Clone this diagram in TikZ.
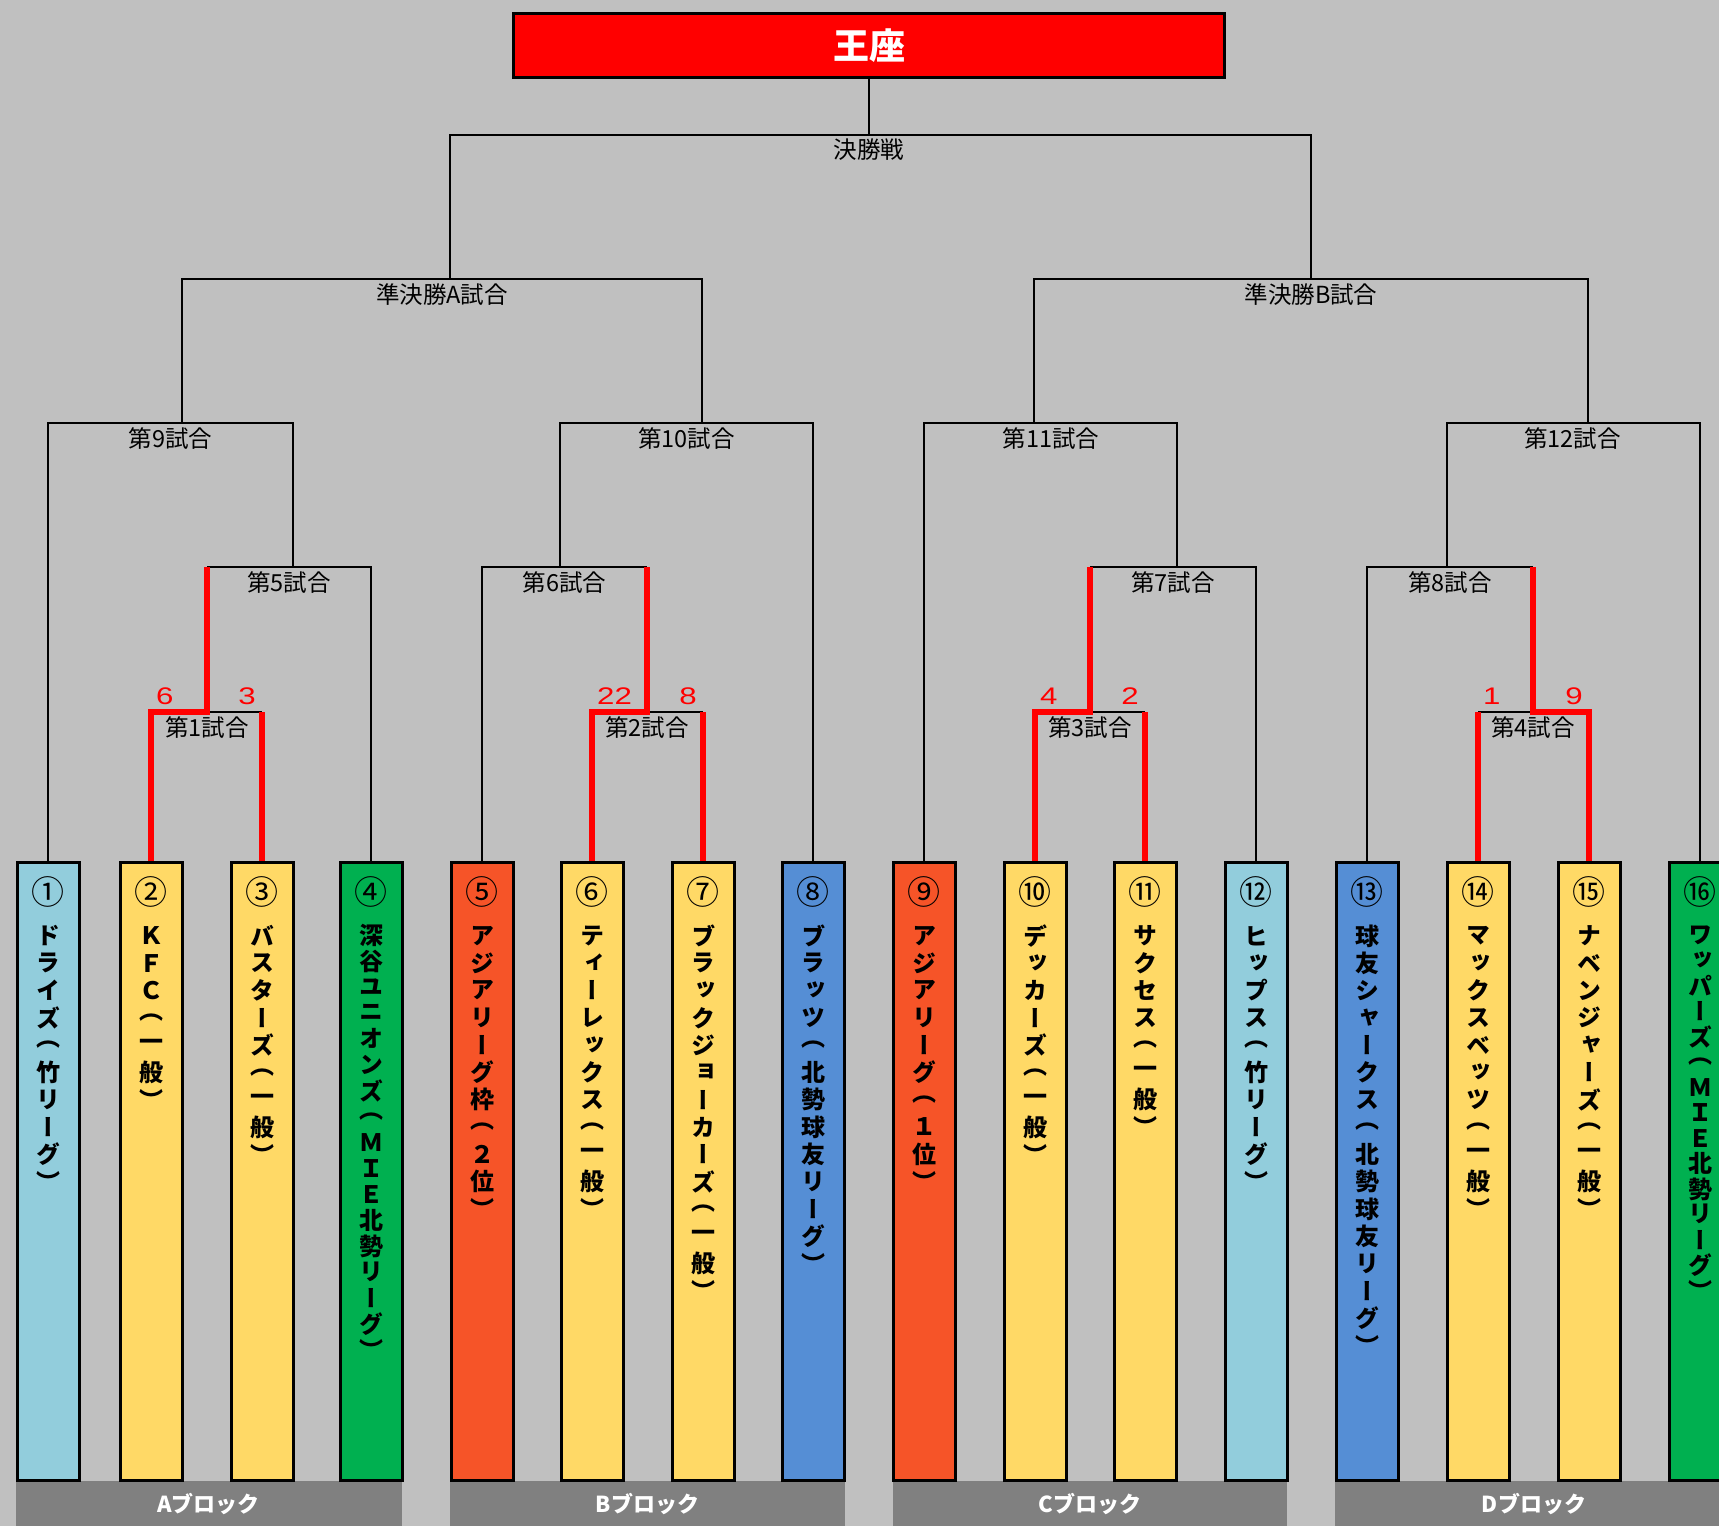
\documentclass[tikz,border=0pt]{standalone}
\usepackage{fontspec}
\setmainfont{Noto Sans CJK JP}
\newfontfamily\tatefont[RawFeature=+vert]{Noto Sans CJK JP}
\newfontfamily\scorefont[FakeStretch=1.3]{Liberation Sans}
\usetikzlibrary{positioning,backgrounds}
\definecolor{bgc}{HTML}{C0C0C0}
\definecolor{barc}{HTML}{808080}
\definecolor{tsky}{HTML}{92CDDC}
\definecolor{tyel}{HTML}{FFD966}
\definecolor{tgrn}{HTML}{00B050}
\definecolor{tred}{HTML}{F65428}
\definecolor{tblu}{HTML}{558ED5}
\newcommand\tatestack[2][27.3]{\def\tatepitch{#1}\vbox{\offinterlineskip\expandafter\tatenext#2\relax}}
\newcommand\tatenext[1]{\ifx#1\relax\else\hbox to 26pt{\hss\vbox to \tatepitch pt{\vss\hbox{#1}\vss}\hss}\expandafter\tatenext\fi}
\tikzset{
  team/.style={draw, line width=3pt, anchor=north, minimum width=62pt, minimum height=618pt, inner sep=0pt},
  num/.style={inner sep=0pt, font=\fontsize{33}{33}\selectfont},
  tname/.style={anchor=north, inner sep=0pt, font=\tatefont\bfseries\fontsize{24}{26}\selectfont},
  link/.style={line width=2.6pt},
  win/.style={red, line width=6.5pt},
  score/.style={red, inner sep=0pt, font=\scorefont\fontsize{24}{24}\selectfont},
  match/.style={anchor=north, inner sep=0pt, font=\fontsize{23.5}{23.5}\selectfont},
  blk/.style={fill=barc, text=white, anchor=north, minimum height=45pt, inner sep=0pt, font=\bfseries\fontsize{22}{22}\selectfont},
  crown/.style={draw, fill=red, line width=3pt, text=white, minimum width=711pt, minimum height=64pt, font=\bfseries\fontsize{36}{36}\selectfont}
}
\begin{document}
\begin{tikzpicture}[x=1pt, y=-1pt]
\useasboundingbox (0,0) rectangle (1719,1526);
\clip (0,0) rectangle (1719,1526);

\node[crown] (top) at (869,45.5) {王座};

\node[blk, minimum width=386pt] (bA) at (208.5,1481) {Aブロック};
\node[blk, minimum width=395pt] (bB) at (647.5,1481) {Bブロック};
\node[blk, minimum width=394pt] (bC) at (1090,1481) {Cブロック};
\node[blk, minimum width=398pt] (bD) at (1534,1481) {Dブロック};

\foreach \i/\x/\col/\cn/\p/\tn in {
  1/48/tsky/①/27.3/ドライズ（竹リーグ）,
  2/151/tyel/②/27.3/ＫＦＣ（一般）,
  3/262/tyel/③/27.3/バスターズ（一般）,
  4/371/tgrn/④/25.9/深谷ユニオンズ（ＭＩＥ北勢リーグ）,
  5/482/tred/⑤/27.3/アジアリーグ枠（２位）,
  6/592/tyel/⑥/27.3/ティーレックス（一般）,
  7/703/tyel/⑦/27.3/ブラックジョーカーズ（一般）,
  8/813/tblu/⑧/27.3/ブラッツ（北勢球友リーグ）,
  9/924/tred/⑨/27.3/アジアリーグ（１位）,
  10/1035/tyel/⑩/27.3/デッカーズ（一般）,
  11/1145/tyel/⑪/27.3/サクセス（一般）,
  12/1256/tsky/⑫/27.3/ヒップス（竹リーグ）,
  13/1367/tblu/⑬/27.3/球友シャークス（北勢球友リーグ）,
  14/1478/tyel/⑭/27.3/マックスベッツ（一般）,
  15/1589/tyel/⑮/27.3/ナベンジャーズ（一般）,
  16/1700/tgrn/⑯/25.4/ワッパーズ（ＭＩＥ北勢リーグ）}{
  \node[team, fill=\col] (t\i) at (\x,861) {};
  \node[num] (n\i) at ([yshift=-31]t\i.north) {\cn};
  \node[tname] (w\i) at ([yshift=-61]t\i.north) {\tatestack[\p]{\tn}};
}

\coordinate (fin) at (869,135);
\coordinate (sA) at (450,279);
\coordinate (sB) at (1311,279);
\coordinate (m9) at (182,423);
\coordinate (m10) at (702,423);
\coordinate (m11) at (1034,423);
\coordinate (m12) at (1588,423);
\coordinate (m5) at (293,567);
\coordinate (m6) at (560,567);
\coordinate (m7) at (1177,567);
\coordinate (m8) at (1447,567);
\coordinate (m1) at (207,712);
\coordinate (m2) at (647,712);
\coordinate (m3) at (1090,712);
\coordinate (m4) at (1533,712);
\coordinate (k2) at (t2.north |- m1);
\coordinate (k3) at (t3.north |- m1);
\coordinate (k6) at (t6.north |- m2);
\coordinate (k7) at (t7.north |- m2);
\coordinate (k10) at (t10.north |- m3);
\coordinate (k11) at (t11.north |- m3);
\coordinate (k14) at (t14.north |- m4);
\coordinate (k15) at (t15.north |- m4);

\begin{scope}[on background layer]
\fill[bgc] (0,0) rectangle (1719,1526);
\draw[link] (top) -- (fin);
\draw[link] (sA) |- (fin) -| (sB);
\draw[link] (m9) |- (sA) -| (m10);
\draw[link] (m11) |- (sB) -| (m12);
\draw[link] (t1.north) |- (m9) -| (m5);
\draw[link] (m6) |- (m10) -| (t8.north);
\draw[link] (t9.north) |- (m11) -| (m7);
\draw[link] (m8) |- (m12) -| (t16.north);
\draw[link] (m1 |- m5) -| (t4.north);
\draw[link] (t5.north) |- (m2 |- m6);
\draw[link] (m3 |- m7) -| (t12.north);
\draw[link] (t13.north) |- (m4 |- m8);
\draw[link] (m1) -- (k3);
\draw[link] (m2) -- (k7);
\draw[link] (m3) -- (k11);
\draw[link] (k14) -- (m4);
\draw[win] (t2.north) -- (k2) -- (m1) -- (m1 |- m5);
\draw[win] (t3.north) -- (k3);
\draw[win] (t6.north) -- (k6) -- (m2) -- (m2 |- m6);
\draw[win] (t7.north) -- (k7);
\draw[win] (t10.north) -- (k10) -- (m3) -- (m3 |- m7);
\draw[win] (t11.north) -- (k11);
\draw[win] (t14.north) -- (k14);
\draw[win] (t15.north) -- (k15) -- (m4) -- (m4 |- m8);
\end{scope}

\node[score, above right=7pt and 5pt of k2] (s2) {6};
\node[score, above left=7pt and 6pt of k3] (s3) {3};
\node[score, above right=7pt and 5pt of k6] (s6) {22};
\node[score, above left=7pt and 6pt of k7] (s7) {8};
\node[score, above right=7pt and 5pt of k10] (s10) {4};
\node[score, above left=7pt and 6pt of k11] (s11) {2};
\node[score, above right=7pt and 5pt of k14] (s14) {1};
\node[score, above left=7pt and 6pt of k15] (s15) {9};

\node[match] (gF) at (869,139) {決勝戦};
\node[match] (gA) at (442,283) {準決勝A試合};
\node[match] (gB) at (1311,283) {準決勝B試合};
\node[match] (g9) at (170.5,427) {第9試合};
\node[match] (g10) at (686.5,427) {第10試合};
\node[match] (g11) at (1051,427) {第11試合};
\node[match] (g12) at (1572.5,427) {第12試合};
\node[match] (g5) at (289,571) {第5試合};
\node[match] (g6) at (564.5,571) {第6試合};
\node[match] (g7) at (1173,571) {第7試合};
\node[match] (g8) at (1450,571) {第8試合};
\node[match] (g1) at (207,716) {第1試合};
\node[match] (g2) at (647,716) {第2試合};
\node[match] (g3) at (1090,716) {第3試合};
\node[match] (g4) at (1533,716) {第4試合};
\end{tikzpicture}
\end{document}
